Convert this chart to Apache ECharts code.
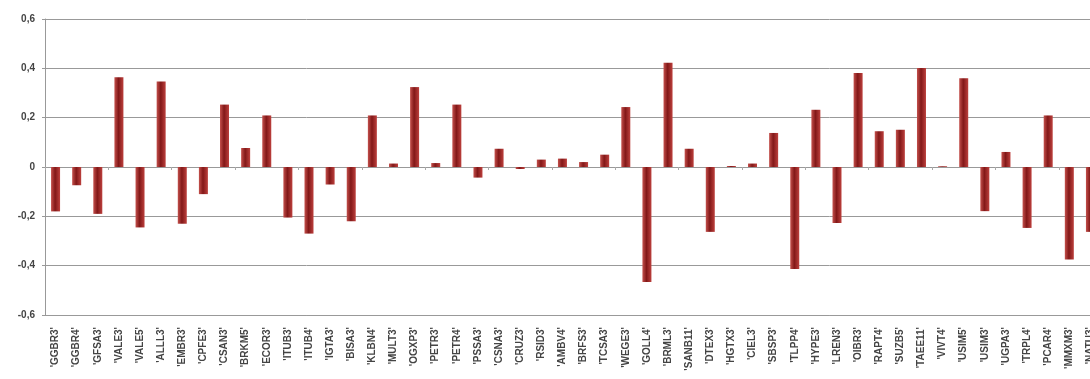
<!DOCTYPE html>
<html>
<head>
<meta charset="utf-8">
<script src="https://cdn.jsdelivr.net/npm/echarts@6/dist/echarts.min.js"></script>
<style>
  html, body { margin: 0; padding: 0; background: #fff; }
  #chart { width: 1090px; height: 379px; }
</style>
</head>
<body>
<div id="chart"></div>
<script>
const tickers = [
  'GGBR3', 'GGBR4', 'GFSA3', 'VALE3', 'VALE5', 'ALLL3', 'EMBR3', 'CPFE3', 'CSAN3', 'BRKM5',
  'ECOR3', 'ITUB3', 'ITUB4', 'IGTA3', 'BISA3', 'KLBN4', 'MULT3', 'OGXP3', 'PETR3', 'PETR4',
  'PSSA3', 'CSNA3', 'CRUZ3', 'RSID3', 'AMBV4', 'BRFS3', 'TCSA3', 'WEGE3', 'GOLL4', 'BRML3',
  'SANB11', 'DTEX3', 'HGTX3', 'CIEL3', 'SBSP3', 'TLPP4', 'HYPE3', 'LREN3', 'OIBR3', 'RAPT4',
  'SUZB5', 'TAEE11', 'VIVT4', 'USIM5', 'USIM3', 'UGPA3', 'TRPL4', 'PCAR4', 'MMXM3', 'NATU3'
]

const values = [
  -0.18, -0.074, -0.19, 0.364, -0.245, 0.347, -0.23, -0.11, 0.253, 0.077,
  0.209, -0.205, -0.27, -0.071, -0.22, 0.209, 0.014, 0.324, 0.016, 0.253,
  -0.043, 0.074, -0.008, 0.03, 0.034, 0.02, 0.05, 0.243, -0.466, 0.423,
  0.074, -0.263, 0.004, 0.014, 0.138, -0.414, 0.232, -0.227, 0.381, 0.145,
  0.151, 0.401, 0.003, 0.36, -0.179, 0.061, -0.247, 0.209, -0.375, -0.263
]

const yTicks = [-0.6, -0.4, -0.2, 0, 0.2, 0.4, 0.6]

const chart = echarts.init(document.getElementById('chart'))

const barColor = new echarts.graphic.LinearGradient(0, 0, 1, 0, [
  { offset: 0, color: '#c4504c' },
  { offset: 0.45, color: '#821818' },
  { offset: 1, color: '#bd403d' }
])

chart.setOption({
  animation: false,
  textStyle: { fontFamily: 'Liberation Sans, Arial, sans-serif' },
  grid: {
    left: 45, top: 19, width: 1056, height: 296,
    containLabel: false,
    outerBoundsMode: 'none'
  },
  xAxis: [
    {
      type: 'category',
      data: tickers,
      position: 'bottom',
      axisLine: { onZero: false, lineStyle: { color: '#999', width: 1 } },
      axisTick: { show: false },
      axisLabel: {
        rotate: 90,
        margin: 12,
        fontSize: 10,
        fontWeight: 'bold',
        color: '#444',
        interval: 0,
        formatter: v => "'" + v + "'"
      }
    },
    {
      type: 'category',
      data: tickers,
      position: 'bottom',
      axisLine: { onZero: true, lineStyle: { color: '#999', width: 1 } },
      axisTick: { show: true, length: 3, inside: false, lineStyle: { color: '#aaa' } },
      axisLabel: { show: false }
    }
  ],
  yAxis: {
    type: 'value',
    min: -0.6,
    max: 0.6,
    interval: 0.2,
    axisLine: { show: true, lineStyle: { color: '#999' } },
    axisTick: { show: true, length: 3, lineStyle: { color: '#999' } },
    splitLine: { lineStyle: { color: '#999', width: 1 } },
    axisLabel: {
      margin: 10,
      fontSize: 10,
      fontWeight: 'bold',
      color: '#444',
      formatter: v => {
        const t = yTicks.find(x => Math.abs(x - v) < 1e-6)
        return t === 0 ? '0' : String(t).replace('.', ',')
      }
    }
  },
  series: [
    {
      type: 'bar',
      data: values,
      barWidth: 9,
      itemStyle: { color: barColor }
    }
  ]
})
</script>
</body>
</html>
